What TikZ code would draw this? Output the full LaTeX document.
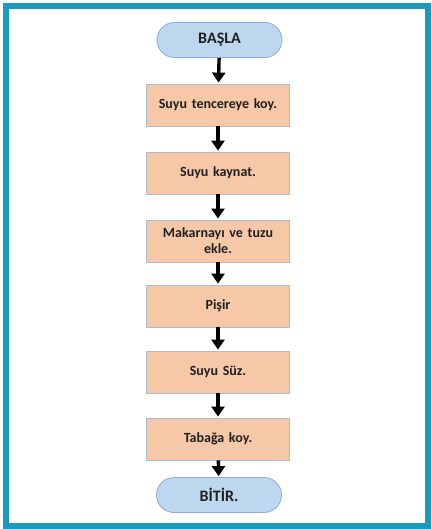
\documentclass[tikz,border=0pt]{standalone}
\usepackage{fontspec}
\setmainfont{Carlito}
\usetikzlibrary{arrows.meta,shapes.misc,positioning}
\definecolor{frameteal}{HTML}{1B9AC0}
\definecolor{termfill}{HTML}{BDD7EE}
\definecolor{termline}{HTML}{8FAADC}
\definecolor{stepfill}{HTML}{F6C8A8}
\definecolor{stepline}{HTML}{AEBCD2}
\definecolor{inktext}{HTML}{202020}
\tikzset{
  terminal/.style={rounded rectangle, draw=termline, fill=termfill, line width=0.8pt,
    minimum width=125pt, minimum height=35pt, inner sep=0pt,
    font=\bfseries\fontsize{16}{18}\selectfont, text=inktext},
  stepbox/.style={rectangle, draw=stepline, fill=stepfill, line width=0.8pt,
    minimum width=143pt, minimum height=42pt, inner sep=0pt, align=center,
    text width=134pt, font=\bfseries\fontsize{14}{16}\selectfont, text=inktext},
  flow/.style={-{Triangle[width=13pt,length=10pt]}, line width=3.4pt, black, shorten >=1pt}
}
\begin{document}
\begin{tikzpicture}[x=1pt,y=-1pt]
  \useasboundingbox (0,0) rectangle (431,529);
  \fill[white] (0,0) rectangle (431,529);
  \draw[frameteal, line width=6pt] (6,6) rectangle (428,526);

  \node[terminal] (start) at (219.5,40) {BAŞLA};
  \node[stepbox] (s1) at (218,105) {Suyu tencereye koy.};
  \node[stepbox] (s2) at (218,173) {Suyu kaynat.};
  \node[stepbox] (s3) at (218,241) {Makarnayı ve tuzu\\ekle.};
  \node[stepbox] (s4) at (218,306) {Pişir};
  \node[stepbox] (s5) at (218,372) {Suyu Süz.};
  \node[stepbox] (s6) at (218,439) {Tabağa koy.};
  \node[terminal] (stop) at (219,495) {BİTİR.};

  \draw[flow] (start) -- (s1);
  \draw[flow] (s1) -- (s2);
  \draw[flow] (s2) -- (s3);
  \draw[flow] (s3) -- (s4);
  \draw[flow] (s4) -- (s5);
  \draw[flow] (s5) -- (s6);
  \draw[flow] (s6) -- (stop);
\end{tikzpicture}
\end{document}
